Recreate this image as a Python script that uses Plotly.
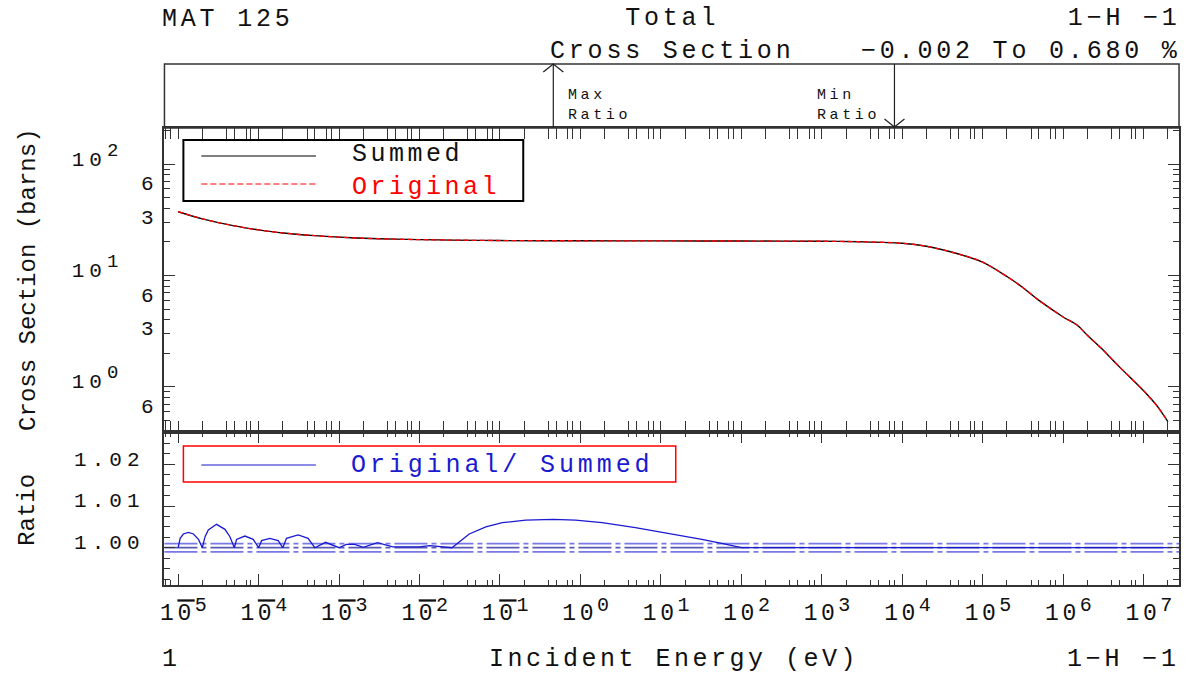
import numpy as np
import plotly.graph_objects as go

# ---- data -------------------------------------------------------------
# Total cross section of 1-H-1 (barns) versus incident energy (eV)
energy_ev = [1e-5, 2e-5, 5e-5, 1e-4, 2e-4, 5e-4, 1e-3, 2e-3, 5e-3, 1e-2, 2.53e-2,
             0.1, 1.0, 10.0, 100.0, 1e3, 3e3, 1e4, 2e4, 5e4, 1e5, 2e5, 3e5, 5e5,
             1e6, 1.5e6, 2e6, 3e6, 5e6, 1e7, 1.5e7, 2e7]
summed_barns = [37.4, 32.3, 27.9, 25.7, 24.1, 22.8, 22.1, 21.6, 21.2, 21.0, 20.8,
                20.6, 20.5, 20.45, 20.4, 20.3, 20.1, 19.5, 18.3, 15.6, 13.2, 9.8, 8.0, 5.97,
                4.24, 3.57, 2.90, 2.21, 1.51, 0.92, 0.66, 0.486]
original_barns = [37.4, 32.3, 27.9, 25.7, 24.1, 22.8, 22.1, 21.6, 21.2, 21.0, 20.8,
                  20.6, 20.5, 20.45, 20.4, 20.3, 20.1, 19.5, 18.3, 15.6, 13.2, 9.8, 8.0, 5.97,
                  4.24, 3.57, 2.90, 2.21, 1.51, 0.92, 0.66, 0.486]

# Ratio Original / Summed
ratio_energy = [1.0e-5, 1.06e-5, 1.16e-5, 1.34e-5, 1.55e-5, 1.79e-5, 2.0e-5,
                2.16e-5, 2.37e-5, 3.0e-5, 3.82e-5, 4.4e-5, 5.0e-5,
                5.32e-5, 6.76e-5, 8.57e-5, 1.0e-4,
                1.09e-4, 1.38e-4, 1.75e-4, 2.0e-4,
                2.22e-4, 3.1e-4, 4.12e-4, 5.0e-4,
                6.8e-4, 1.0e-3, 1.23e-3, 1.56e-3, 2.0e-3, 3.0e-3, 4.66e-3, 1.0e-2, 1.33e-2, 2.53e-2,
                4.15e-2, 6.67e-2, 0.107, 0.209, 0.46, 0.869, 1.86, 4.82, 12.5, 32.3, 57.1, 83.6, 100.0,
                1.0e3, 8.0e3, 2.0e4, 1.0e5, 1.0e6, 2.0e7]
ratio_values = [1.0, 1.00225, 1.00329, 1.00369, 1.00329, 1.0020, 1.0,
                1.00264, 1.00424, 1.00561, 1.00441, 1.00264, 1.0,
                1.0020, 1.0028, 1.0020, 1.0,
                1.0017, 1.00225, 1.0017, 1.0,
                1.00225, 1.00305, 1.00225, 1.0,
                1.0013, 1.0, 1.0008, 1.0008, 1.0001, 1.0012, 1.0002, 1.0002, 1.0005, 1.0,
                1.0033, 1.0050, 1.0060, 1.00664, 1.0068, 1.00664, 1.0060, 1.0048, 1.00345,
                1.0020, 1.00106, 1.0004, 1.0,
                1.0, 0.99998, 1.0, 1.0, 1.0, 1.0]

# reference band drawn in the ratio panel
band_levels = [1.001, 1.0, 0.999]

# axis ticks
x_tick_exponents = list(range(-5, 8))
xs_tick_vals = [0.6, 1, 3, 6, 10, 30, 60, 100]
xs_tick_labels = ["6", "10^0", "3", "6", "10^1", "3", "6", "10^2"]
ratio_tick_vals = [1.00, 1.01, 1.02]
ratio_tick_labels = ["1.00", "1.01", "1.02"]

# ---- styling helpers ----------------------------------------------------
W, H = 1190, 677
FONT = "Liberation Mono"
FRAME = "#333333"
INK = "#111111"
BLUE = "#1a1ad0"


def px_x(p):
    return p / W


def px_y(p):
    return 1 - p / H


def spaced(s, ls, color=None):
    style = "letter-spacing:%.1fpx" % ls
    if color:
        style += ";color:%s" % color
    return '<span style="%s">%s</span>' % (style, s)


def raised(s, size, shift):
    # exponent drawn nearly full size and lifted above the baseline
    return '<span style="font-size:%dpx;baseline-shift:%dpx">%s</span>' % (size, shift, s)


def x_label(e):
    if e < 0:
        body = '1<span style="text-decoration:overline">0</span>' + raised(-e, 20, 9)
    else:
        body = "10" + raised(e, 20, 9)
    return spaced(body, 3.5)


def y_label(s):
    if s.startswith("10^"):
        return spaced("10" + raised(s[3:], 19, 10) + "\u00a0\u00a0", 5)
    return spaced(s, 5)


x_tick_vals = [10.0 ** e for e in x_tick_exponents]
x_tick_text = [x_label(e) for e in x_tick_exponents]
x_minor_vals = [k * 10.0 ** d for d in range(-6, 8) for k in (2, 4, 5, 7, 8)]
y_minor_vals = [k * 10.0 ** d for d in range(-1, 3) for k in range(2, 10)]
y_decades = [0.1, 1, 10, 100]

X_DOMAIN = [px_x(161), px_x(1179)]
MAIN_DOMAIN = [px_y(432), px_y(128)]
RATIO_DOMAIN = [px_y(585), px_y(432)]
X_RANGE = [-5.17, 7.44]

fig = go.Figure()

fig.add_trace(go.Scatter(x=energy_ev, y=summed_barns, mode="lines",
                         line=dict(color="black", width=1.4, shape="spline", smoothing=0.8),
                         xaxis="x", yaxis="y", showlegend=False))
fig.add_trace(go.Scatter(x=energy_ev, y=original_barns, mode="lines",
                         line=dict(color="red", width=1.3, dash="5px,3px", shape="spline",
                                   smoothing=0.8),
                         xaxis="x", yaxis="y", showlegend=False))
# empty carrier trace for the decade tick overlay axis
fig.add_trace(go.Scatter(x=[], y=[], xaxis="x", yaxis="y3", showlegend=False))
fig.add_trace(go.Scatter(x=ratio_energy, y=ratio_values, mode="lines",
                         line=dict(color=BLUE, width=1.3),
                         xaxis="x2", yaxis="y2", showlegend=False))

common_x = dict(type="log", range=X_RANGE, domain=X_DOMAIN, showgrid=False, zeroline=False,
                showline=True, linecolor=FRAME, linewidth=1.5, mirror="allticks",
                ticks="inside", ticklen=11, tickwidth=1.2, tickcolor=FRAME,
                tickmode="array", tickvals=x_tick_vals,
                minor=dict(tickmode="array", tickvals=x_minor_vals, ticks="inside",
                           ticklen=5, tickwidth=1, tickcolor=FRAME, showgrid=False))

fig.update_layout(
    width=W, height=H, margin=dict(l=0, r=0, t=0, b=0),
    paper_bgcolor="white", plot_bgcolor="white",
    font=dict(family=FONT, color=INK, size=22),
    xaxis=dict(common_x, anchor="y", showticklabels=False),
    xaxis2=dict(common_x, anchor="y2", matches="x", ticktext=x_tick_text,
                showticklabels=True, tickfont=dict(size=23, color=INK),
                ticklabelstandoff=6, ticklabelshift=7),
    yaxis=dict(type="log", range=[-0.406, 2.325], domain=MAIN_DOMAIN, anchor="x",
               showgrid=False, zeroline=False, showline=True, linecolor=FRAME, linewidth=1.5,
               mirror="allticks", ticks="inside", ticklen=6, tickwidth=1, tickcolor=FRAME,
               tickmode="array", tickvals=xs_tick_vals,
               ticktext=[y_label(s) for s in xs_tick_labels],
               tickfont=dict(size=21, color=INK), ticklabelshift=-6,
               minor=dict(tickmode="array", tickvals=y_minor_vals, ticks="inside",
                          ticklen=6, tickwidth=1, tickcolor=FRAME, showgrid=False)),
    yaxis3=dict(type="log", range=[-0.406, 2.325], overlaying="y", anchor="x", side="left",
                showgrid=False, zeroline=False, showline=False, mirror="allticks",
                ticks="inside", ticklen=11, tickwidth=1.2, tickcolor=FRAME,
                tickmode="array", tickvals=y_decades, showticklabels=False),
    yaxis2=dict(range=[0.99106, 1.02775], domain=RATIO_DOMAIN, anchor="x2",
                showgrid=False, zeroline=False, showline=True, linecolor=FRAME, linewidth=1.5,
                mirror="allticks", ticks="inside", ticklen=11, tickwidth=1.2, tickcolor=FRAME,
                tickmode="array", tickvals=ratio_tick_vals,
                ticktext=[y_label(s) for s in ratio_tick_labels],
                tickfont=dict(size=21, color=INK), ticklabelstandoff=14,
                ticklabelshift=-6,
                minor=dict(dtick=0.0025, ticks="inside", ticklen=6, tickwidth=1,
                           tickcolor=FRAME, showgrid=False)),
)

# ---- panels, band lines, legends ---------------------------------------
shapes = []
# header panel above the main plot
shapes.append(dict(type="rect", xref="paper", yref="paper",
                   x0=X_DOMAIN[0], x1=X_DOMAIN[1], y0=px_y(128), y1=px_y(64),
                   line=dict(color=FRAME, width=1.5)))
for lvl, col in zip(band_levels, ["#7878e6", "#5a5ab4", "#7878e6"]):
    shapes.append(dict(type="line", xref="x2 domain", yref="y2", x0=0, x1=1, y0=lvl, y1=lvl,
                       line=dict(color=col, width=1.7, dash="33px,4px,5px,4px"), layer="below"))

# legend of the cross section panel
shapes.append(dict(type="rect", xref="paper", yref="paper",
                   x0=px_x(180), x1=px_x(521), y0=px_y(201), y1=px_y(140),
                   line=dict(color="black", width=2)))
shapes.append(dict(type="line", xref="paper", yref="paper",
                   x0=px_x(198), x1=px_x(313), y0=px_y(156), y1=px_y(156),
                   line=dict(color="black", width=1)))
shapes.append(dict(type="line", xref="paper", yref="paper",
                   x0=px_x(198), x1=px_x(313), y0=px_y(184), y1=px_y(184),
                   line=dict(color="red", width=1, dash="6px,3px")))
# legend of the ratio panel
shapes.append(dict(type="rect", xref="paper", yref="paper",
                   x0=px_x(180), x1=px_x(674), y0=px_y(482), y1=px_y(446),
                   line=dict(color="red", width=1.5)))
shapes.append(dict(type="line", xref="paper", yref="paper",
                   x0=px_x(198), x1=px_x(313), y0=px_y(465), y1=px_y(465),
                   line=dict(color=BLUE, width=1)))

# max / min ratio markers in the header panel
i_max = int(np.argmax(ratio_values))
i_min = int(np.argmin(ratio_values))
e_max = ratio_energy[i_max]
e_min = ratio_energy[i_min]
for e, head_up in [(e_max, True), (e_min, False)]:
    shapes.append(dict(type="line", xref="x", yref="paper", x0=e, x1=e,
                       y0=px_y(128), y1=px_y(64), line=dict(color="#222222", width=1.2)))
    y_tip = px_y(64) if head_up else px_y(127)
    arm = "M-10,-8L0,0L10,-8" if head_up else "M-10,8L0,0L10,8"
    shapes.append(dict(type="path", xref="x", yref="paper", xsizemode="pixel",
                       ysizemode="pixel", xanchor=e, yanchor=y_tip, path=arm,
                       line=dict(color="#222222", width=1.3)))
fig.update_layout(shapes=shapes)

pct_lo = (ratio_values[i_min] - 1) * 100
pct_hi = (ratio_values[i_max] - 1) * 100
range_text = ("%.3f To %.3f %%" % (pct_lo, pct_hi)).replace("-", "\u2212")

ann = []


def text(s, x, y, xanchor="center", size=25, align="center", **kw):
    ann.append(dict(text=s, x=x, y=y, xref="paper", yref="paper", xanchor=xanchor,
                    yanchor="middle", showarrow=False, align=align,
                    font=dict(family=FONT, size=size, color=INK), **kw))


text(spaced("MAT 125", 3.8), px_x(157), px_y(20), "left")
text(spaced("Total", 3.8) + "<br>" + spaced("Cross Section", 3.8), px_x(670), px_y(34.5))
text(spaced("1\u2212H \u22121", 3.8) + "<br>" + spaced(range_text, 3.8),
     px_x(1183), px_y(34.5), "right", align="right")
text("Cross Section (barns)", px_x(24), px_y(280), size=24, textangle=-90)
text("Ratio", px_x(24), px_y(510), size=24, textangle=-90)
text(spaced("1", 3.8), px_x(157), px_y(659), "left")
text(spaced("Incident Energy (eV)", 3.5), px_x(672), px_y(659))
text(spaced("1\u2212H \u22121", 3.8), px_x(1182), px_y(659), "right")
text(spaced("Summed", 3.5, INK) + "<br>" + spaced("Original", 3.5, "red"),
     px_x(347), px_y(171), "left", align="left")
text(spaced("Original/ Summed", 3.9, BLUE), px_x(346), px_y(465), "left")

for e, label, xanchor, shift in [(e_max, "Max", "left", 13), (e_min, "Min", "right", -12)]:
    ann.append(dict(text=spaced(label, 3.6) + "<br>" + spaced("Ratio", 3.6),
                    x=np.log10(e), y=px_y(106), xref="x", yref="paper",
                    xanchor=xanchor, yanchor="middle", xshift=shift, align="left",
                    showarrow=False, font=dict(family=FONT, size=15, color=INK)))
fig.update_layout(annotations=ann)

fig.write_html("out.html")
